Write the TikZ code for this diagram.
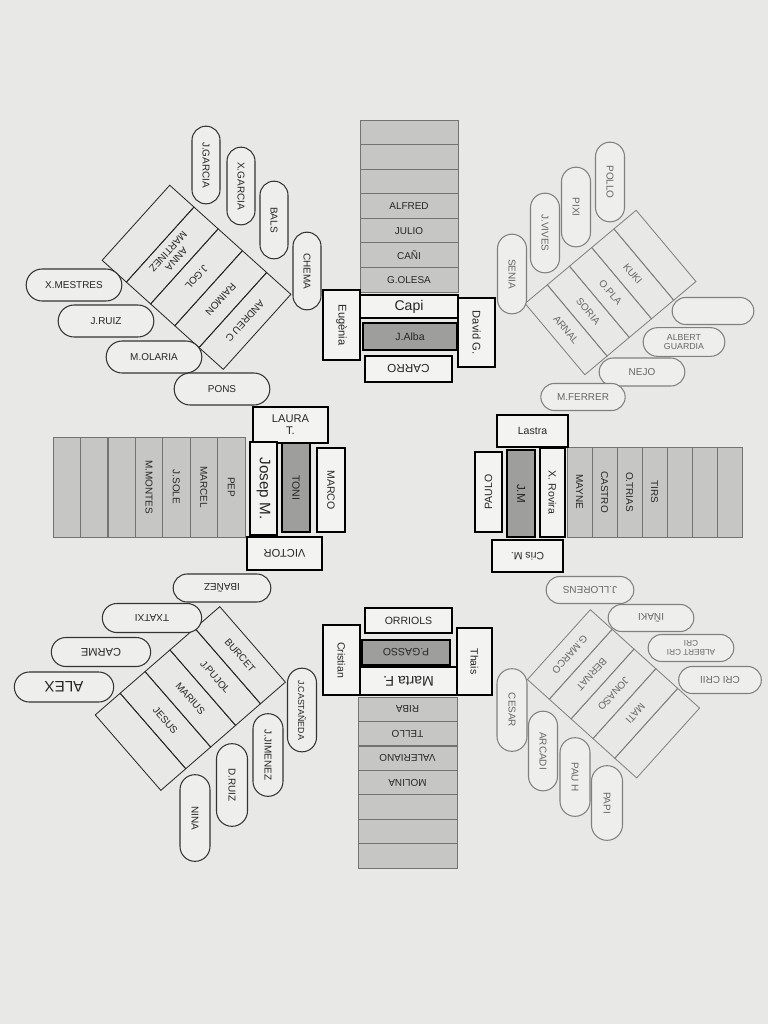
\documentclass[tikz,border=0pt]{standalone}
\usepackage{fontspec}
\setmainfont{Liberation Sans}
\usepackage{tikz}
\usetikzlibrary{shapes.misc}

\definecolor{paper}{RGB}{232,232,230}
\definecolor{pillfill}{RGB}{238,238,236}
\definecolor{tablegray}{RGB}{198,198,196}
\definecolor{boxdark}{RGB}{158,158,156}
\definecolor{boxwhite}{RGB}{243,243,241}

\begin{document}
\begin{tikzpicture}[
x=0.03cm,
y=-0.03cm,
every node/.style={font=\fontsize{8.5}{9.5}\selectfont,text=black!85,inner sep=1pt,align=center},
pill/.style={rounded rectangle,draw=black!80,line width=0.9pt,fill=pillfill,minimum width=2.94cm,minimum height=0.96cm},
vpill/.style={pill,rotate=-90,minimum width=2.4cm,minimum height=0.84cm},
faint/.style={draw=black!50,text=black!60},
row/.style={rectangle,draw=black!55,line width=0.6pt,fill=tablegray,minimum width=2.94cm,minimum height=0.737cm},
col/.style={row,rotate=-90,minimum width=3cm,minimum height=0.823cm},
strip/.style={rectangle,draw=black!85,line width=0.7pt,rotate=-90},
seat/.style={rectangle,draw=black,line width=2.2pt,fill=boxwhite},
darkseat/.style={seat,fill=boxdark}
]
\useasboundingbox (0,0) rectangle (768,1024);
\fill[paper] (0,0) rectangle (768,1024);

% top table
\node[row] (top1) at (409,132.3) {};
\node[row] (top2) at (409,156.9) {};
\node[row] (top3) at (409,181.4) {};
\node[row] (top4) at (409,206.0) {ALFRED};
\node[row] (top5) at (409,230.6) {JULIO};
\node[row] (top6) at (409,255.1) {CAÑI};
\node[row] (top7) at (409,279.7) {G.OLESA};
\node[seat,line width=1.2pt,minimum width=2.94cm,minimum height=0.69cm,font=\fontsize{12}{13}\selectfont] (capi) at (409,306.5) {Capi};
\node[darkseat,minimum width=2.82cm,minimum height=0.81cm,font=\fontsize{9}{10}\selectfont] (jalba) at (410,336.5) {J.Alba};
\node[seat,rotate=180,minimum width=2.61cm,minimum height=0.78cm,font=\fontsize{10}{11}\selectfont] (carro) at (408.5,369) {CARRO};
\node[seat,rotate=-90,minimum width=2.1cm,minimum height=1.11cm,font=\fontsize{9.5}{10}\selectfont] (eugenia) at (341.5,325) {Eugènia};
\node[seat,rotate=-90,minimum width=2.07cm,minimum height=1.11cm,font=\fontsize{9.5}{10}\selectfont] (davidg) at (476.5,332.5) {David G.};

% left table
\node[col] (left1) at (66.7,487) {};
\node[col] (left2) at (94.1,487) {};
\node[col] (left3) at (121.6,487) {};
\node[col] (left4) at (149.0,487) {M.MONTES};
\node[col] (left5) at (176.4,487) {J.SOLE};
\node[col] (left6) at (203.9,487) {MARCEL};
\node[col] (left7) at (231.3,487) {PEP};
\node[seat,minimum width=2.25cm,minimum height=1.08cm,font=\fontsize{9.5}{10.5}\selectfont] (laura) at (290.5,425) {LAURA\\T.};
\node[seat,rotate=-90,minimum width=2.79cm,minimum height=0.81cm,font=\fontsize{13}{14}\selectfont] (josep) at (263.5,488.5) {Josep M.};
\node[darkseat,rotate=-90,minimum width=2.67cm,minimum height=0.84cm,font=\fontsize{9}{10}\selectfont] (toni) at (296,487.5) {TONI};
\node[seat,rotate=-90,minimum width=2.52cm,minimum height=0.84cm,font=\fontsize{9}{10}\selectfont] (marco) at (331,490) {MARCO};
\node[seat,rotate=180,minimum width=2.25cm,minimum height=0.99cm,font=\fontsize{9.5}{10}\selectfont] (victor) at (284.5,553.5) {VICTOR};

% right table
\node[col,minimum width=2.7cm,minimum height=0.75cm] (right1) at (579.5,492) {MAYNE};
\node[col,minimum width=2.7cm,minimum height=0.75cm] (right2) at (604.5,492) {CASTRO};
\node[col,minimum width=2.7cm,minimum height=0.75cm] (right3) at (629.5,492) {O.TRIAS};
\node[col,minimum width=2.7cm,minimum height=0.75cm] (right4) at (654.5,492) {TIRS};
\node[col,minimum width=2.7cm,minimum height=0.75cm] (right5) at (679.5,492) {};
\node[col,minimum width=2.7cm,minimum height=0.75cm] (right6) at (704.5,492) {};
\node[col,minimum width=2.7cm,minimum height=0.75cm] (right7) at (729.5,492) {};
\node[seat,minimum width=2.13cm,minimum height=0.96cm,font=\fontsize{9}{10}\selectfont] (lastra) at (532.5,431) {Lastra};
\node[seat,rotate=90,minimum width=2.4cm,minimum height=0.81cm,font=\fontsize{9}{10}\selectfont] (paulo) at (488.5,492) {PAULO};
\node[darkseat,rotate=-90,minimum width=2.61cm,minimum height=0.84cm,font=\fontsize{10}{11}\selectfont] (jm) at (521,493.5) {J.M};
\node[seat,rotate=-90,minimum width=2.67cm,minimum height=0.75cm,font=\fontsize{9}{10}\selectfont] (xrovira) at (552.5,492.5) {X. Rovira};
\node[seat,rotate=180,minimum width=2.13cm,minimum height=0.96cm,font=\fontsize{9}{10}\selectfont] (crism) at (527.5,556) {Cris M.};

% bottom table
\node[seat,minimum width=2.61cm,minimum height=0.75cm,font=\fontsize{9}{10}\selectfont] (orriols) at (408.5,620.5) {ORRIOLS};
\node[darkseat,rotate=180,minimum width=2.64cm,minimum height=0.75cm,font=\fontsize{9}{10}\selectfont] (pgasso) at (406,652.5) {P.GASSO};
\node[seat,rotate=180,minimum width=2.91cm,minimum height=0.84cm,font=\fontsize{12}{13}\selectfont] (martaf) at (408.5,681) {Marta F.};
\node[seat,rotate=-90,minimum width=2.1cm,minimum height=1.11cm,font=\fontsize{9}{10}\selectfont] (cristian) at (341.5,660) {Cristian};
\node[seat,rotate=-90,minimum width=2.01cm,minimum height=1.05cm,font=\fontsize{9}{10}\selectfont] (thais) at (474.5,661.5) {Thais};
\node[row,rotate=180,minimum width=2.97cm,minimum height=0.733cm] (bot1) at (407.5,709.2) {RIBA};
\node[row,rotate=180,minimum width=2.97cm,minimum height=0.733cm] (bot2) at (407.5,733.6) {TELLO};
\node[row,rotate=180,minimum width=2.97cm,minimum height=0.733cm] (bot3) at (407.5,758.1) {VALERIANO};
\node[row,rotate=180,minimum width=2.97cm,minimum height=0.733cm] (bot4) at (407.5,782.5) {MOLINA};
\node[row,rotate=180,minimum width=2.97cm,minimum height=0.733cm] (bot5) at (407.5,806.9) {};
\node[row,rotate=180,minimum width=2.97cm,minimum height=0.733cm] (bot6) at (407.5,831.4) {};
\node[row,rotate=180,minimum width=2.97cm,minimum height=0.733cm] (bot7) at (407.5,855.8) {};

% top left corner
\begin{scope}[shift={(196.5,277.3)},rotate=-42,transform shape]
\node[strip,minimum width=3.03cm,minimum height=0.978cm] (nw1) at (-65.2,0) {};
\node[strip,minimum width=3.03cm,minimum height=0.978cm] (nw2) at (-32.6,0) {ANNA\\MARTINEZ};
\node[strip,minimum width=3.03cm,minimum height=0.978cm] (nw3) at (0,0) {J.GOL};
\node[strip,minimum width=3.03cm,minimum height=0.978cm] (nw4) at (32.6,0) {RAIMON};
\node[strip,minimum width=3.03cm,minimum height=0.978cm] (nw5) at (65.2,0) {ANDREU C};
\end{scope}
\node[vpill] (jgarcia) at (206,165) {J.GARCIA};
\node[vpill] (xgarcia) at (241,186) {X.GARCIA};
\node[vpill] (bals) at (274,220) {BALS};
\node[vpill] (chema) at (307,271) {CHEMA};
\node[pill] (xmestres) at (74,285) {X.MESTRES};
\node[pill] (jruiz) at (106,321) {J.RUIZ};
\node[pill] (molaria) at (154,357) {M.OLARIA};
\node[pill] (pons) at (222,389) {PONS};

% top right corner
\begin{scope}[shift={(610.5,292.5)},rotate=40,transform shape]
\node[strip,faint,minimum width=2.79cm,minimum height=0.87cm] (ne1) at (-58,0) {ARNAL};
\node[strip,faint,minimum width=2.79cm,minimum height=0.87cm] (ne2) at (-29,0) {SORIA};
\node[strip,faint,minimum width=2.79cm,minimum height=0.87cm] (ne3) at (0,0) {O.PLA};
\node[strip,faint,minimum width=2.79cm,minimum height=0.87cm] (ne4) at (29,0) {KUKI};
\node[strip,faint,minimum width=2.79cm,minimum height=0.87cm] (ne5) at (58,0) {};
\end{scope}
\node[vpill,faint,minimum width=2.46cm,minimum height=0.87cm] (senia) at (512,274) {SENIA};
\node[vpill,faint,minimum width=2.46cm,minimum height=0.87cm] (jvives) at (545,233) {J.VIVES};
\node[vpill,faint,minimum width=2.46cm,minimum height=0.87cm] (pixi) at (576,207) {PIXI};
\node[vpill,faint,minimum width=2.46cm,minimum height=0.87cm] (pollo) at (610,182) {POLLO};
\node[pill,faint,minimum width=2.52cm,minimum height=0.81cm] (blank) at (713,311) {};
\node[pill,faint,minimum width=2.52cm,minimum height=0.86cm,font=\fontsize{7.5}{8}\selectfont] (aguardia) at (684,342) {ALBERT\\GUARDIA};
\node[pill,faint,minimum width=2.64cm,minimum height=0.84cm] (nejo) at (642,372) {NEJO};
\node[pill,faint,minimum width=2.6cm,minimum height=0.81cm] (mferrer) at (583,397) {M.FERRER};

% bottom left corner
\begin{scope}[shift={(190.3,698.5)},rotate=41,transform shape]
\node[strip,minimum width=3cm,minimum height=0.99cm] (sw1) at (-66,0) {};
\node[strip,minimum width=3cm,minimum height=0.99cm] (sw2) at (-33,0) {JESUS};
\node[strip,minimum width=3cm,minimum height=0.99cm] (sw3) at (0,0) {MARIUS};
\node[strip,minimum width=3cm,minimum height=0.99cm] (sw4) at (33,0) {J.PUJOL};
\node[strip,minimum width=3cm,minimum height=0.99cm] (sw5) at (66,0) {BURCET};
\end{scope}
\node[pill,rotate=180,minimum width=3cm,minimum height=0.84cm] (ibanez) at (222,588) {IBAÑEZ};
\node[pill,rotate=180,minimum width=3.05cm,minimum height=0.87cm] (txatxi) at (152,618) {TXATXI};
\node[pill,rotate=180,minimum width=3.05cm,minimum height=0.87cm,font=\fontsize{9.5}{10}\selectfont] (carme) at (101,652) {CARME};
\node[pill,rotate=180,minimum width=3.05cm,minimum height=0.9cm,font=\fontsize{13}{14}\selectfont] (alex) at (64,687) {ALEX};
\node[vpill,minimum width=2.58cm,minimum height=0.87cm,font=\fontsize{7.5}{8}\selectfont] (jcastaneda) at (302,710) {J.CASTAÑEDA};
\node[vpill,minimum width=2.55cm,minimum height=0.9cm] (jjimenez) at (268,755) {J.JIMENEZ};
\node[vpill,minimum width=2.55cm,minimum height=0.93cm] (druiz) at (232,785) {D.RUIZ};
\node[vpill,minimum width=2.67cm,minimum height=0.9cm] (nina) at (195,818) {NINA};

% bottom right corner
\begin{scope}[shift={(613.5,693.8)},rotate=-42,transform shape]
\node[strip,faint,minimum width=2.82cm,minimum height=0.882cm] (se1) at (-58.8,0) {G.MARCO};
\node[strip,faint,minimum width=2.82cm,minimum height=0.882cm] (se2) at (-29.4,0) {BERNAT};
\node[strip,faint,minimum width=2.82cm,minimum height=0.882cm] (se3) at (0,0) {JONASO};
\node[strip,faint,minimum width=2.82cm,minimum height=0.882cm] (se4) at (29.4,0) {MATI};
\node[strip,faint,minimum width=2.82cm,minimum height=0.882cm] (se5) at (58.8,0) {};
\end{scope}
\node[pill,faint,rotate=180,minimum width=2.7cm,minimum height=0.81cm] (jllorens) at (590,590) {J.LLORENS};
\node[pill,faint,rotate=180,minimum width=2.64cm,minimum height=0.81cm] (inaki) at (651,618) {IÑAKI};
\node[pill,faint,rotate=180,minimum width=2.64cm,minimum height=0.81cm,font=\fontsize{7}{7.5}\selectfont] (albertcri) at (691,648) {ALBERT CRI\\CRI};
\node[pill,faint,rotate=180,minimum width=2.55cm,minimum height=0.81cm] (cricrii) at (720,680) {CRI CRII};
\node[vpill,faint,minimum width=2.55cm,minimum height=0.9cm] (cesar) at (512,710) {CESAR};
\node[vpill,faint,minimum width=2.46cm,minimum height=0.87cm] (arcadi) at (543,751) {ARCADI};
\node[vpill,faint,minimum width=2.43cm,minimum height=0.9cm] (pauh) at (575,777) {PAU H};
\node[vpill,faint,minimum width=2.31cm,minimum height=0.93cm] (papi) at (607,803) {PAPI};
\end{tikzpicture}
\end{document}
